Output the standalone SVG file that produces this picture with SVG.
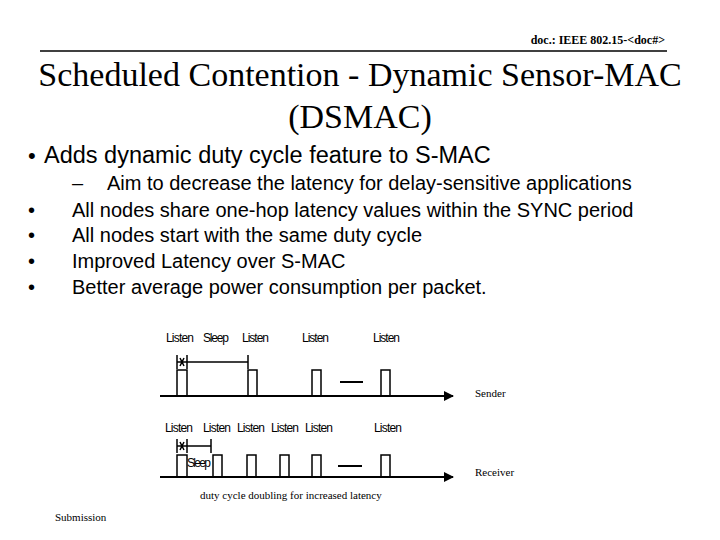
<svg xmlns="http://www.w3.org/2000/svg" width="720" height="540" viewBox="0 0 720 540">
<style>
.s{font-family:"Liberation Serif",serif}
.a{font-family:"Liberation Sans",sans-serif}
.k{stroke:#000;stroke-width:2;fill:none}
.p{stroke:#000;stroke-width:1.5;fill:none}
</style>
<defs><marker id="ah" markerWidth="10" markerHeight="10" refX="9" refY="5" orient="auto" markerUnits="userSpaceOnUse"><path d="M0,0L10,5L0,10z"/></marker></defs>
<rect width="720" height="540" fill="#fff"/>
<text class="s" x="665" y="44" font-size="12" font-weight="bold" text-anchor="end">doc.: IEEE 802.15-&lt;doc#&gt;</text>
<line x1="40" y1="51" x2="667" y2="51" stroke="#000" stroke-width="1.5"/>
<text class="s" x="360" y="86" font-size="34" text-anchor="middle">Scheduled Contention - Dynamic Sensor-MAC</text>
<text class="s" x="360" y="128" font-size="34" text-anchor="middle">(DSMAC)</text>
<g class="a" font-size="20">
<text x="28" y="163" font-size="22">•</text><text x="44" y="163" font-size="23.5">Adds dynamic duty cycle feature to S-MAC</text>
<text x="72" y="190">–</text><text x="107" y="190">Aim to decrease the latency for delay-sensitive applications</text>
<text x="28" y="217">•</text><text x="72" y="217">All nodes share one-hop latency values within the SYNC period</text>
<text x="28" y="242">•</text><text x="72" y="242">All nodes start with the same duty cycle</text>
<text x="28" y="268">•</text><text x="72" y="268">Improved Latency over S-MAC</text>
<text x="28" y="294">•</text><text x="72" y="294">Better average power consumption per packet.</text>
</g>
<g id="sender">
<line class="k" x1="160" y1="396" x2="453" y2="396" marker-end="url(#ah)"/>
<path class="p" d="M177,396V370H187V396M248,396V370H257V396M312,396V370H321V396M381,396V370H390V396"/>
<line x1="340" y1="382" x2="363" y2="382" stroke="#000" stroke-width="2"/>
<path class="p" d="M177,355V369M187,355V369M248,355V369M177,362H248M180,358L184,366M184,358L180,366"/>
<g font-family="Liberation Sans,sans-serif" font-size="12" transform="translate(0,0)">
<text x="166" y="342" textLength="28">Listen</text><text x="203" y="342" textLength="26">Sleep</text><text x="242" y="342" textLength="27">Listen</text><text x="302" y="342" textLength="27">Listen</text><text x="373" y="342" textLength="27">Listen</text>
</g>
<text class="s" x="475" y="397" font-size="11">Sender</text>
</g>
<g id="receiver">
<line class="k" x1="160" y1="477" x2="453" y2="477" marker-end="url(#ah)"/>
<path class="p" d="M177,477V455H187V477M213,477V455H222V477M247,477V455H256V477M280,477V455H289V477M312,477V455H321V477M381,477V455H390V477"/>
<line x1="338" y1="466" x2="362" y2="466" stroke="#000" stroke-width="2"/>
<path class="p" d="M177,439V453M187,439V453M211,439V453M177,446H211M180,442L184,450M184,442L180,450"/>
<g font-family="Liberation Sans,sans-serif" font-size="12">
<text x="165" y="432" textLength="28">Listen</text><text x="203" y="432" textLength="28">Listen</text><text x="237" y="432" textLength="28">Listen</text><text x="271" y="432" textLength="28">Listen</text><text x="305" y="432" textLength="28">Listen</text><text x="374" y="432" textLength="28">Listen</text>
<text x="187" y="467" textLength="24">Sleep</text>
</g>
<text class="s" x="475" y="476" font-size="11">Receiver</text>
<text class="s" x="200" y="499" font-size="11">duty cycle doubling for  increased latency</text>
</g>
<text class="s" x="55" y="521" font-size="11">Submission</text>
</svg>
